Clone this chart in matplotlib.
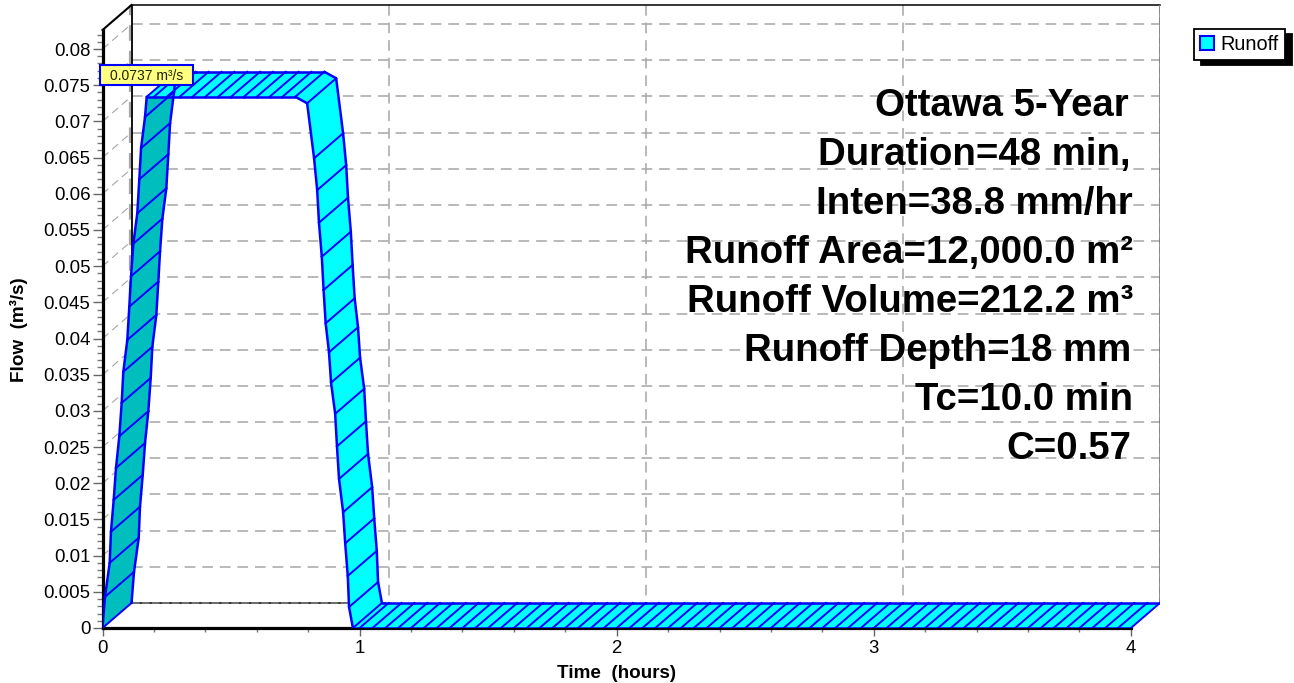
import matplotlib
matplotlib.use("Agg")
import matplotlib.pyplot as plt
from matplotlib.patches import Patch, Rectangle
from matplotlib.ticker import MultipleLocator, FixedLocator

plt.rcParams['font.family'] = ['Liberation Sans', 'DejaVu Sans']

# Data
rise_time = [0.0, .0097, .028, .033, .0436, .0525, .0654, .0747, .081, .0965, .1043, .111, .12, .1354, .1432, .15, .1654, .172]
rise_flow = [0.0, .0043, .0090, .0133, .0177, .0221, .0265, .0311, .0354, .0398, .0444, .0486, .0531, .0573, .0620, .0663, .0706, .0734]
peak_time = [.20, .25, .30, .35, .40, .45, .50, .55, .60, .65, .70, .75]
peak_flow = [.0734] * len(peak_time)
fall_time = [.796, .823, .835, .842, .853, .86, .868, .881, .889, .905, .912, .920, .936, .944, .954, .959, .974]
fall_flow = [.0725, .0649, .0605, .0560, .0513, .0467, .0421, .0381, .0339, .0296, .0251, .0206, .0160, .0117, .0072, .0029, 0.0]
tail_time = [1.0, 1.05, 1.1, 1.15, 1.2, 1.25, 1.3, 1.35, 1.4, 1.45, 1.5, 1.55, 1.6, 1.65, 1.7, 1.75, 1.8, 1.85, 1.9, 1.95,
             2.0, 2.05, 2.1, 2.15, 2.2, 2.25, 2.3, 2.35, 2.4, 2.45, 2.5, 2.55, 2.6, 2.65, 2.7, 2.75, 2.8, 2.85, 2.9, 2.95,
             3.0, 3.05, 3.1, 3.15, 3.2, 3.25, 3.3, 3.35, 3.4, 3.45, 3.5, 3.55, 3.6, 3.65, 3.7, 3.75, 3.8, 3.85, 3.9, 3.95, 4.0]
tail_flow = [0.0] * len(tail_time)
y_labels = ['0', '0.005', '0.01', '0.015', '0.02', '0.025', '0.03', '0.035', '0.04', '0.045', '0.05', '0.055',
            '0.06', '0.065', '0.07', '0.075', '0.08']
y_ticks = [0, .005, .01, .015, .02, .025, .03, .035, .04, .045, .05, .055, .06, .065, .07, .075, .08]
x_ticks = [0, 1, 2, 3, 4]
notes = ['Ottawa 5-Year', 'Duration=48 min,', 'Inten=38.8 mm/hr', 'Runoff Area=12,000.0 m²',
         'Runoff Volume=212.2 m³', 'Runoff Depth=18 mm', 'Tc=10.0 min', 'C=0.57']
note_right = [1129, 1131, 1133, 1133, 1133, 1131, 1133, 1131]
peak_label = '0.0737 m³/s'

# Layout
W, H = 1294, 683
L, R, T, B = 102.5, 1160, 5, 628
px_t, px_q = 257.1, 7237.5
DX, DY = 29 / px_t, 25 / px_q
AXIS_TOP = (628 - 30) / px_q
fig = plt.figure(figsize=(W / 100, H / 100), dpi=100, facecolor='white')
ax = fig.add_axes([L / W, 1 - B / H, (R - L) / W, (B - T) / H])
ax.set_xlim(0, (R - L) / px_t)
ax.set_ylim(0, (B - T) / px_q)
ax.patch.set_visible(False)

GRID = '#a6a6a6'
dash = (0, (7, 4.5))
# back wall and left wall grid
for q in y_ticks[1:]:
    ax.plot([DX, 4 + DX], [q + DY, q + DY], color=GRID, lw=1.1, ls=dash, zorder=1)
    ax.plot([0, DX], [q, q + DY], color=GRID, lw=0.8, ls=dash, zorder=1, clip_on=False)
top_q = AXIS_TOP + DY
for t in x_ticks[1:-1]:
    ax.plot([t + DX, t + DX], [top_q, DY], color=GRID, lw=1.1, ls=dash, zorder=1)
# back wall outline
ax.plot([DX - .004, DX - .004], [DY, top_q], color=GRID, lw=1.6, ls=dash, zorder=1)
ax.plot([DX, DX], [DY, top_q], color='black', lw=1.3, zorder=1.5)
ax.plot([DX, 4 + DX], [top_q, top_q], color='black', lw=1.1, zorder=1.5, clip_on=False)
ax.plot([4 + DX, 4 + DX], [DY, top_q], color='#808080', lw=1.2, zorder=1.5)
ax.plot([4 + DX, 4 + DX], [DY, top_q], color='#202020', lw=0.9, ls=(0, (5, 3)), zorder=1.6)
ax.plot([0, DX], [AXIS_TOP, top_q], color='black', lw=1.5, zorder=1.5, clip_on=False)
ax.plot([DX, 1.1], [DY, DY], color='black', lw=1.1, zorder=1.5)
ax.plot([DX, 1.1], [DY, DY], color='#808080', lw=1.1, ls=(0, (5, 1.5)), zorder=1.6)

# ribbon
BLUE = '#0000ff'
CYAN = '#00ffff'
TEAL = '#00bebe'
time = rise_time + peak_time + fall_time + tail_time
flow = rise_flow + peak_flow + fall_flow + tail_flow
n_rise = len(rise_time)
for i in range(len(time) - 1):
    t0, t1, q0, q1 = time[i], time[i + 1], flow[i], flow[i + 1]
    ax.fill([t0, t1, t1 + DX, t0 + DX], [q0, q1, q1 + DY, q0 + DY],
            facecolor=TEAL if i < n_rise - 1 else CYAN, edgecolor='none', zorder=3)
for i in range(len(time) - 1):
    t0, t1, q0, q1 = time[i], time[i + 1], flow[i], flow[i + 1]
    ax.plot([t0, t1], [q0, q1], color=BLUE, lw=1.8, zorder=4, solid_capstyle='round')
    ax.plot([t0 + DX, t1 + DX], [q0 + DY, q1 + DY], color=BLUE, lw=1.8, zorder=4, solid_capstyle='round')
for t, q in zip(time, flow):
    ax.plot([t, t + DX], [q, q + DY], color=BLUE, lw=1.4, zorder=4)

# axes
for side in ['top', 'right']:
    ax.spines[side].set_visible(False)
ax.spines['left'].set_bounds(0, AXIS_TOP)
ax.spines['bottom'].set_bounds(0, 4)
ax.spines['left'].set_linewidth(2.3)
ax.spines['bottom'].set_linewidth(2.3)
ax.set_yticks(y_ticks)
ax.set_yticklabels(y_labels)
ax.set_xticks(x_ticks)
ax.yaxis.set_minor_locator(FixedLocator([i / 1000 for i in range(83)]))
ax.xaxis.set_minor_locator(MultipleLocator(.2))
ax.set_xlim(0, (R - L) / px_t)
ax.set_ylim(0, (B - T) / px_q)
ax.tick_params(axis='y', which='major', length=7.2, width=1, color='#666666', labelsize=13.4, pad=1.5)
ax.tick_params(axis='y', which='minor', length=4.3, width=1, color='#777777')
ax.tick_params(axis='x', which='major', length=5.5, width=1, color='#666666', labelsize=13.4, pad=3)
ax.tick_params(axis='x', which='minor', length=3, width=1, color='#777777')
ax.set_xlabel('Time  (hours)', fontsize=13.6, fontweight='bold')
ax.xaxis.set_label_coords((616.5 - L) / (R - L), -(673 - B) / (B - T), transform=ax.transAxes)
ax.xaxis.label.set_va('center')
ax.set_ylabel('Flow  (m³/s)', fontsize=13.6, fontweight='bold')
ax.yaxis.set_label_coords((19 - L) / (R - L), (B - 330) / (B - T), transform=ax.transAxes)
ax.yaxis.label.set_va('center')

# note block
for i, s in enumerate(notes):
    fig.text(note_right[i] / W, 1 - (106 + 49 * i) / H, s, ha='right', va='center', fontsize=27.6, fontweight='bold',
             color='black', zorder=6)

# peak label
ax.add_patch(Rectangle((100 / W, 1 - 85 / H), 93 / W, 20 / H, transform=fig.transFigure, facecolor='#ffff80',
                       edgecolor=BLUE, lw=1.5, zorder=7, clip_on=False))
fig.text(146.5 / W, 1 - 75.5 / H, peak_label, ha='center', va='center', fontsize=10, color='#222200', zorder=8)

# legend
leg = fig.legend(handles=[Patch(facecolor=CYAN, edgecolor=BLUE, lw=1.5, label='Runoff')],
                 loc='upper left', bbox_to_anchor=(1194 / W, 1 - 29 / H), bbox_transform=fig.transFigure,
                 fontsize=14.3, frameon=True, fancybox=False, framealpha=1, edgecolor='black',
                 shadow={'ox': 5, 'oy': -3.6, 'color': 'black', 'alpha': 1},
                 handlelength=0.7, handleheight=0.7, handletextpad=0.35, borderpad=0.3, borderaxespad=0)
leg.get_frame().set_linewidth(1.3)

fig.savefig('out.png', dpi=100)
